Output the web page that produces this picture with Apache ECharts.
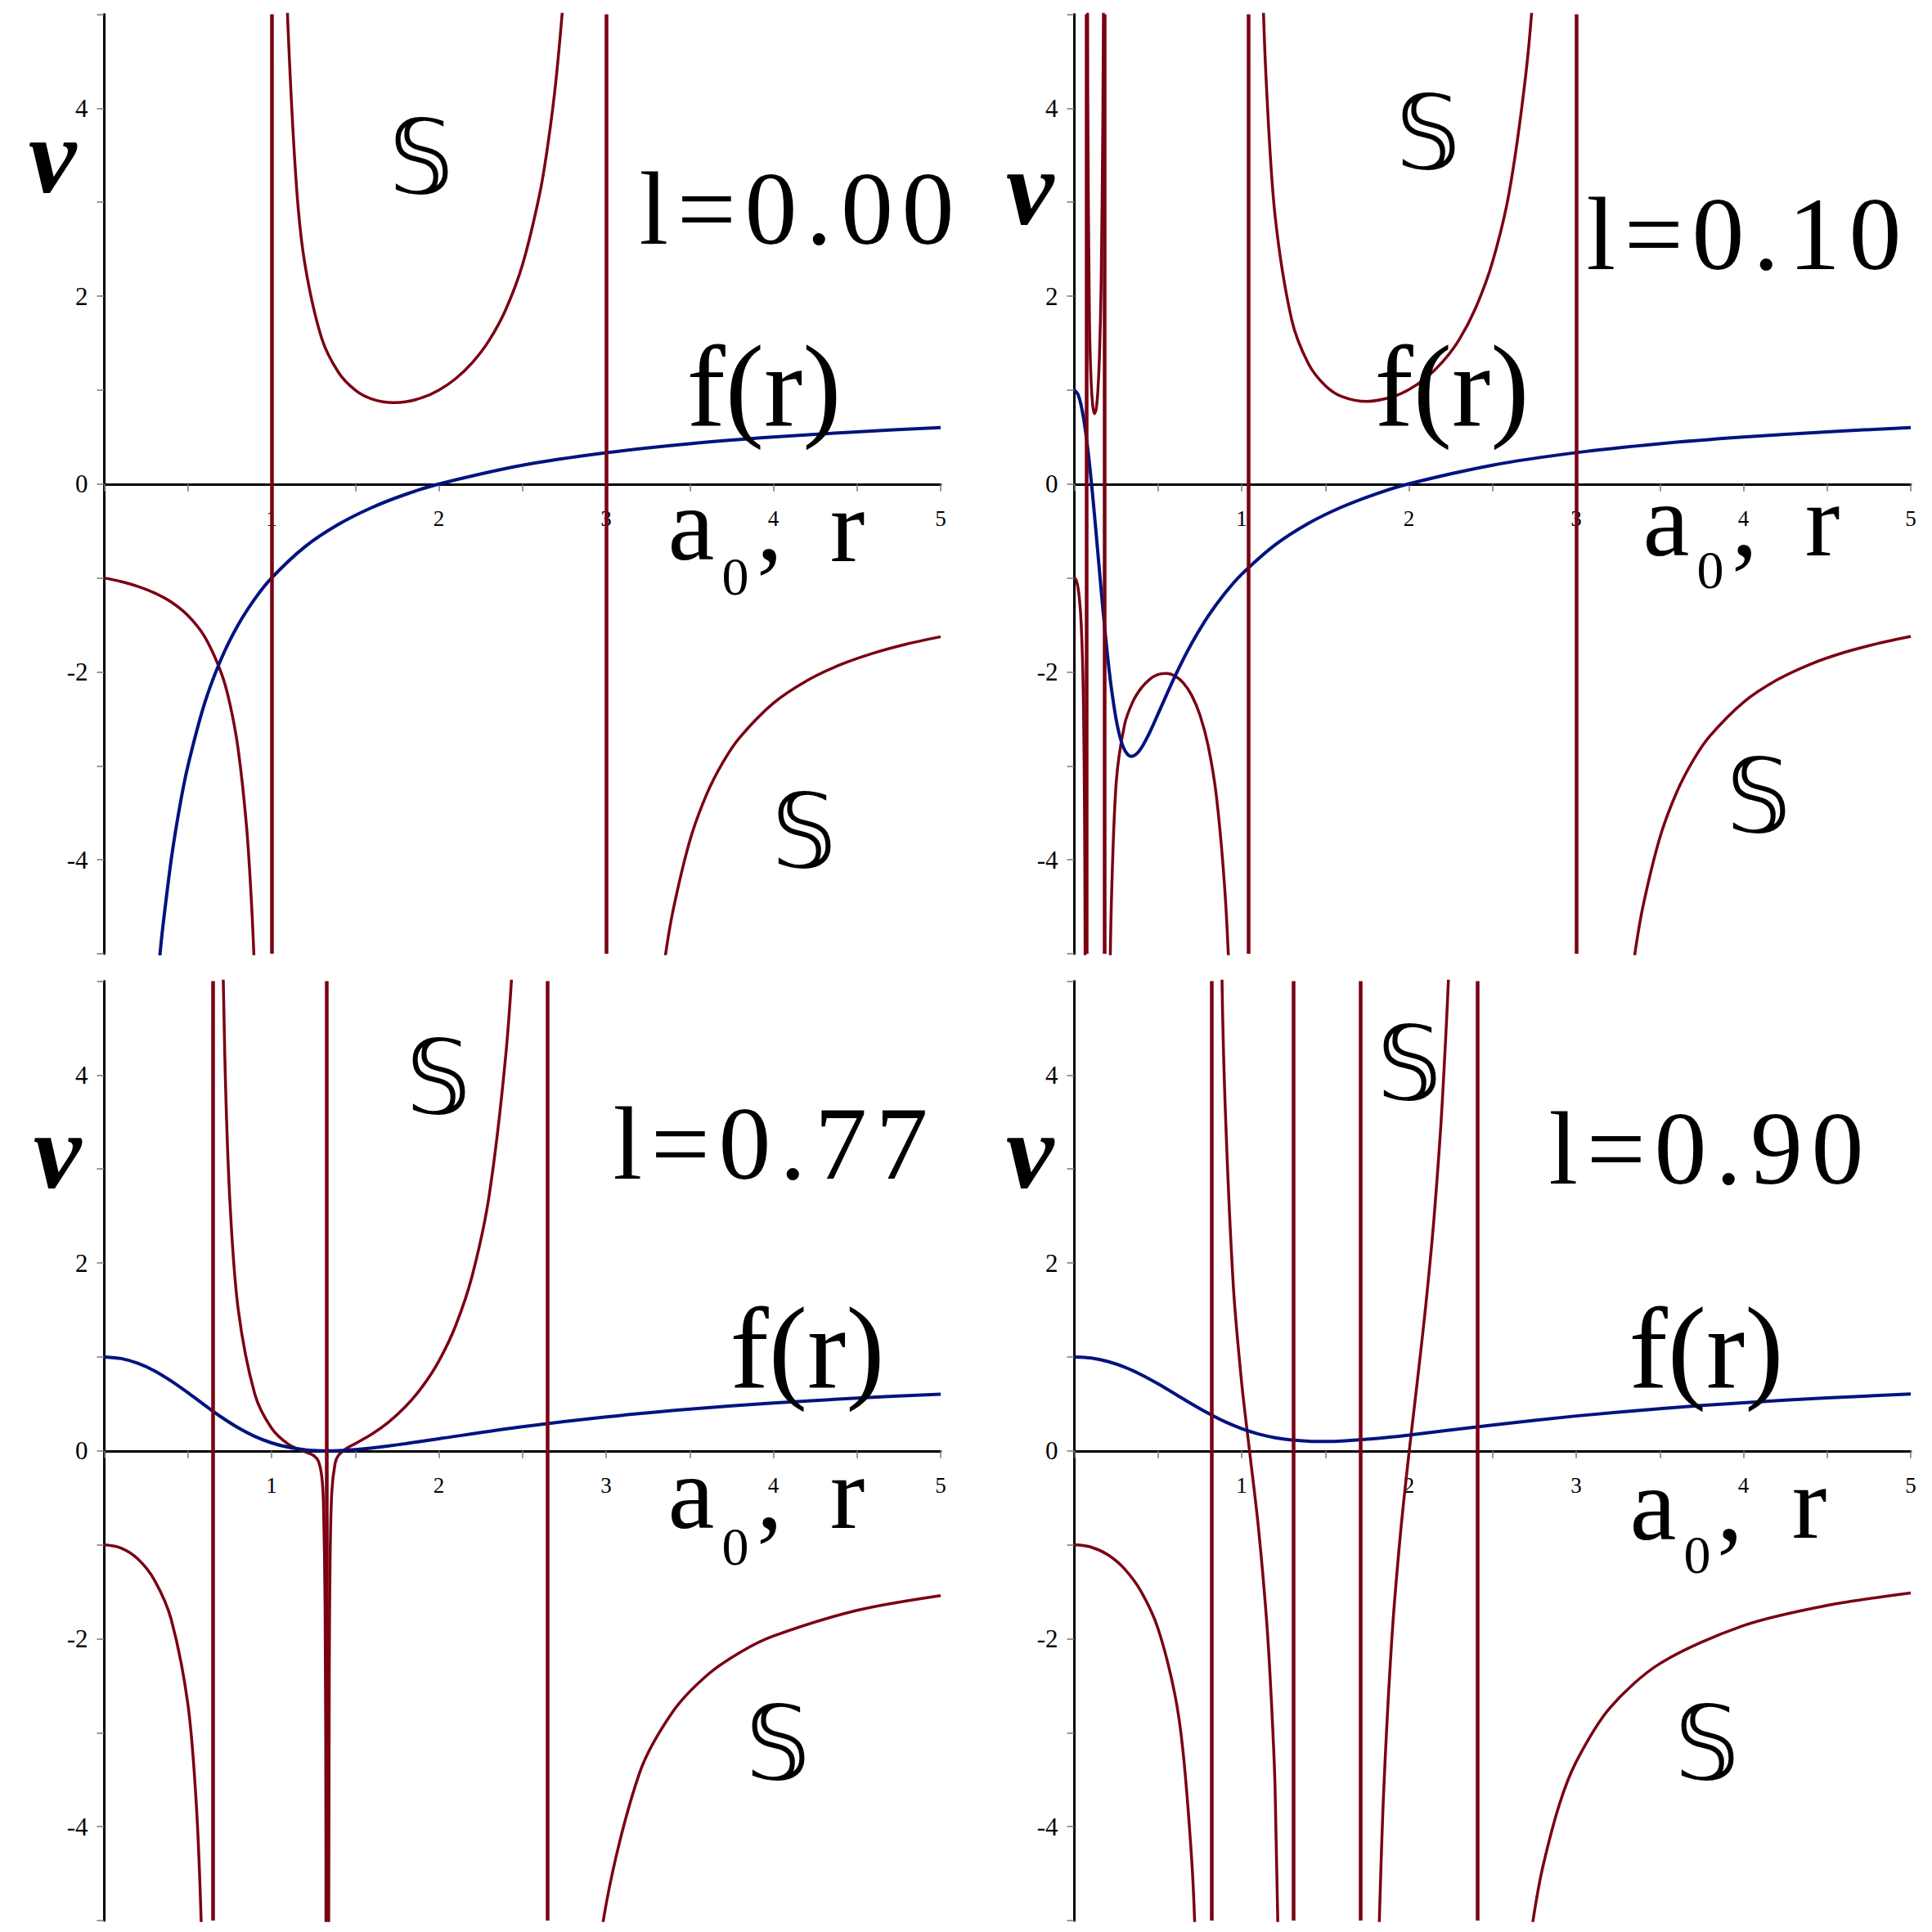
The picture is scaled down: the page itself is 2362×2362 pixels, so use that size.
<!DOCTYPE html>
<html><head><meta charset="utf-8">
<script src="https://cdn.jsdelivr.net/npm/echarts@6.0.0/dist/echarts.min.js"></script>
<style>html,body{margin:0;padding:0;background:#fff}#c{width:2362px;height:2362px}</style>
</head><body><div id="c"></div>
<script>
// ---------------- DATA ----------------
const panelLabels = ['l=0.00', 'l=0.10', 'l=0.77', 'l=0.90'];
const xTickValues = [1, 2, 3, 4, 5];
const yTickValues = [-4, -2, 0, 2, 4];

// Panel l=0.00
const f_l000 = [[0.3,-5.667],[0.333,-5.006],[0.35,-4.714],[0.4,-4],[0.45,-3.444],[0.5,-3],[0.6,-2.333],[0.7,-1.857],[0.8,-1.5],[0.9,-1.222],[1,-1],[1.2,-0.667],[1.4,-0.429],[1.6,-0.25],[1.8,-0.111],[2,0],[2.5,0.2],[3,0.333],[3.5,0.429],[4,0.5],[4.5,0.556],[5,0.6]];
const v_l000_a = [[0,-1],[0.1,-1.038],[0.2,-1.089],[0.3,-1.159],[0.4,-1.256],[0.5,-1.4],[0.6,-1.625],[0.7,-2.014],[0.75,-2.333],[0.8,-2.818],[0.85,-3.636],[0.88,-4.459],[0.9,-5.286],[0.92,-6.53]];
const v_l000_b = [[1.08,6.03],[1.1,4.789],[1.15,3.144],[1.2,2.333],[1.3,1.549],[1.4,1.188],[1.5,1.0],[1.6,0.905],[1.73,0.866],[1.8,0.875],[1.9,0.919],[2.0,1.0],[2.1,1.121],[2.2,1.292],[2.3,1.527],[2.4,1.857],[2.5,2.333],[2.6,3.063],[2.65,3.589],[2.7,4.294],[2.75,5.286],[2.78,6.099]];
const v_l000_c = [[3.3,-5.783],[3.35,-5.073],[3.4,-4.542],[3.5,-3.8],[3.6,-3.308],[3.7,-2.958],[3.8,-2.696],[4.0,-2.333],[4.2,-2.094],[4.4,-1.924],[4.6,-1.799],[4.8,-1.702],[5.0,-1.625]];
const asym_l000 = [1, 3];

// Panel l=0.10
const f_l010 = [[0,1],[0.02,0.96],[0.04,0.8405],[0.06,0.644],[0.08,0.376],[0.1,0.048],[0.12,-0.3255],[0.14,-0.7235],[0.16,-1.125],[0.18,-1.5085],[0.2,-1.857],[0.22,-2.158],[0.25,-2.509],[0.28,-2.738],[0.31,-2.86],[0.34,-2.899],[0.37,-2.875],[0.4,-2.81],[0.45,-2.645],[0.5,-2.448],[0.6,-2.051],[0.7,-1.7],[0.8,-1.406],[0.9,-1.163],[1,-0.961],[1.2,-0.648],[1.4,-0.418],[1.6,-0.244],[1.8,-0.107],[2,0.0025],[2.5,0.201],[3,0.334],[3.5,0.429],[4,0.5],[4.5,0.556],[5,0.6]];
const v_l010_a = [[0,-1],[0.01,-1.020],[0.02,-1.087],[0.03,-1.218],[0.04,-1.461],[0.05,-1.957],[0.055,-2.436],[0.06,-3.327],[0.0625,-4.133],[0.065,-5.529],[0.067,-7.69]];
const v_l010_b = [[0.075,11.16],[0.08,4.153],[0.09,1.751],[0.1,1.094],[0.11,0.832],[0.12,0.749],[0.13,0.795],[0.14,0.979],[0.15,1.363],[0.16,2.124],[0.17,3.838],[0.175,5.707],[0.18,9.848]];
const v_l010_c = [[0.2,-9.602],[0.21,-5.885],[0.22,-4.544],[0.25,-3.179],[0.3,-2.562],[0.35,-2.315],[0.4,-2.171],[0.45,-2.079],[0.5,-2.028],[0.55,-2.015],[0.6,-2.041],[0.65,-2.114],[0.7,-2.245],[0.75,-2.455],[0.8,-2.788],[0.85,-3.337],[0.9,-4.335],[0.93,-5.413],[0.95,-6.568]];
const v_l010_d = [[1.08,11.35],[1.1,7.562],[1.125,5.36],[1.15,4.174],[1.2,2.853],[1.3,1.742],[1.4,1.278],[1.5,1.048],[1.6,0.931],[1.75,0.879],[1.9,0.927],[2.0,1.005],[2.1,1.127],[2.2,1.298],[2.3,1.536],[2.4,1.879],[2.5,2.366],[2.6,3.11],[2.7,4.38],[2.75,5.41],[2.8,6.96]];
const v_l010_e = [[3.3,-5.70],[3.35,-5.01],[3.4,-4.49],[3.5,-3.766],[3.6,-3.285],[3.7,-2.94],[3.8,-2.681],[4.0,-2.323],[4.2,-2.086],[4.4,-1.918],[4.6,-1.794],[4.8,-1.699],[5.0,-1.622]];
const asym_l010 = [0.0707, 0.185, 1.041, 2.996];

// Panel l=0.77
const f_l077 = [[0,1],[0.1,0.983],[0.2,0.933],[0.3,0.852],[0.4,0.744],[0.5,0.619],[0.6,0.486],[0.7,0.359],[0.8,0.246],[0.9,0.154],[1.0,0.085],[1.1,0.0385],[1.2,0.0116],[1.25,0.0044],[1.3,0.0008],[1.333,0.0002],[1.4,0.0025],[1.45,0.007],[1.5,0.0133],[1.6,0.0306],[1.7,0.0523],[1.8,0.0766],[2.0,0.1291],[2.5,0.2564],[3.0,0.3614],[3.5,0.4439],[4.0,0.5091],[4.5,0.5613],[5.0,0.6038]];
const v_l077_a = [[0,-1],[0.1,-1.035],[0.2,-1.150],[0.3,-1.376],[0.4,-1.793],[0.5,-2.700],[0.55,-3.758],[0.58,-5.058],[0.6,-6.716],[0.62,-10.32]];
const v_l077_b = [[0.68,11.8],[0.7,6.385],[0.72,4.239],[0.75,2.688],[0.8,1.515],[0.9,0.603],[1.0,0.241],[1.1,0.071],[1.2,-0.010],[1.25,-0.048],[1.28,-0.110],[1.3,-0.272],[1.31,-0.548],[1.32,-1.658],[1.325,-4.171],[1.33,-24.25]];
const v_l077_c = [[1.337,-25.8],[1.34,-7.467],[1.345,-2.369],[1.35,-1.148],[1.36,-0.440],[1.38,-0.132],[1.4,-0.048],[1.45,0.028],[1.5,0.077],[1.6,0.178],[1.7,0.306],[1.8,0.470],[1.9,0.680],[2.0,0.955],[2.1,1.330],[2.2,1.868],[2.3,2.708],[2.4,4.209],[2.45,5.513],[2.5,7.673],[2.55,11.95]];
const v_l077_d = [[2.7,-28.7],[2.8,-9.993],[2.9,-6.371],[3.0,-4.828],[3.2,-3.429],[3.4,-2.774],[3.6,-2.394],[3.8,-2.146],[4.0,-1.971],[4.5,-1.698],[5.0,-1.541]];
const asym_l077 = [0.654, 1.3336, 2.652];

// Panel l=0.90
const f_l090 = [[0,1],[0.1,0.988],[0.2,0.951],[0.3,0.891],[0.4,0.81],[0.5,0.7135],[0.6,0.608],[0.7,0.501],[0.8,0.4],[0.9,0.31],[1.0,0.237],[1.1,0.18],[1.2,0.14],[1.3,0.1145],[1.4,0.1017],[1.5,0.0991],[1.6,0.1043],[1.8,0.1304],[2.0,0.1684],[2.5,0.2751],[3.0,0.3711],[3.5,0.4494],[4.0,0.5123],[4.5,0.5633],[5.0,0.6051]];
const v_l090_a = [[0,-1],[0.1,-1.025],[0.2,-1.106],[0.3,-1.257],[0.4,-1.501],[0.5,-1.891],[0.6,-2.586],[0.65,-3.207],[0.7,-4.315],[0.72,-5.063],[0.75,-6.997],[0.78,-12.02]];
const v_l090_b = [[0.83,30.03],[0.85,11.27],[0.88,5.352],[0.9,3.750],[0.95,1.762],[1.0,0.726],[1.05,-0.043],[1.1,-0.811],[1.15,-1.826],[1.18,-2.739],[1.2,-3.606],[1.25,-8.229]];
const v_l090_c = [[1.75,-17.51],[1.8,-6.845],[1.82,-5.210],[1.85,-3.593],[1.9,-1.945],[1.95,-0.871],[2.0,-0.030],[2.05,0.736],[2.1,1.535],[2.15,2.478],[2.2,3.734],[2.25,5.652],[2.3,9.187]];
const v_l090_d = [[2.45,-31.5],[2.5,-14.89],[2.6,-7.790],[2.7,-5.545],[2.75,-4.909],[2.8,-4.432],[2.9,-3.761],[3.0,-3.310],[3.2,-2.740],[3.5,-2.265],[4.0,-1.860],[4.5,-1.645],[5.0,-1.512]];
const asym_l090 = [0.817, 1.3116, 1.707, 2.4102];

// ---------------- LAYOUT / STYLE ----------------
const RED = '#7a0012', BLUE = '#00137f';
const GW = 1022.5, GH = 1148.5;
const gridPos = [[127.5,17.5],[1313.5,17.5],[127.5,1199.5],[1313.5,1199.5]];
const panels = [
  {f:f_l000, v:[v_l000_a,v_l000_b,v_l000_c], asym:asym_l000},
  {f:f_l010, v:[v_l010_a,v_l010_b,v_l010_c,v_l010_d,v_l010_e], asym:asym_l010},
  {f:f_l077, v:[v_l077_a,v_l077_b,v_l077_c,v_l077_d], asym:asym_l077},
  {f:f_l090, v:[v_l090_a,v_l090_b,v_l090_c,v_l090_d], asym:asym_l090}
];
const SERIF = '"Liberation Serif","Times New Roman",serif';

const grid = gridPos.map(p => ({left:p[0], top:p[1], width:GW, height:GH, containLabel:false}));
// x axis drawn through v = 0 (middle of the -5..5 range)
const xAxis = gridPos.map((p,i) => ({
  type:'value', gridIndex:i, min:0, max:5, interval:0.5, position:'bottom', offset:-GH/2,
  axisLine:{show:true, onZero:false, lineStyle:{color:'#000', width:3}},
  axisTick:{show:true, length:9, lineStyle:{color:'#777', width:1.5}},
  axisLabel:{margin:29, fontFamily:SERIF, fontSize:27, color:'#000',
    formatter:v => xTickValues.includes(v) ? String(v) : ''},
  splitLine:{show:false}
}));
const yAxis = gridPos.map((p,i) => ({
  type:'value', gridIndex:i, min:-5, max:5, interval:1, position:'left',
  axisLine:{show:true, onZero:false, lineStyle:{color:'#000', width:3}},
  axisTick:{show:true, length:9, lineStyle:{color:'#777', width:1.5}},
  axisLabel:{margin:20, fontFamily:SERIF, fontSize:31, color:'#000',
    formatter:v => yTickValues.includes(v) ? String(v) : ''},
  splitLine:{show:false}
}));

const series = [];
panels.forEach((P,i) => {
  P.v.forEach((seg,k) => {
    const s = {type:'line', xAxisIndex:i, yAxisIndex:i, data:seg, symbol:'none', showSymbol:false,
      smooth:0.3, clip:true, silent:true, z:3,
      lineStyle:{color:RED, width:3.5}};
    if (k === 0) {
      s.markLine = {symbol:['none','none'], silent:true, animation:false, label:{show:false},
        lineStyle:{color:RED, width:4.5, type:'solid'},
        data:P.asym.map(a => ({xAxis:a}))};
    }
    series.push(s);
  });
  series.push({type:'line', xAxisIndex:i, yAxisIndex:i, data:P.f, symbol:'none', showSymbol:false,
    smooth:0.3, clip:true, silent:true, z:4,
    lineStyle:{color:BLUE, width:4}});
});

// ---------------- TEXT ----------------
const DS = '\u{1D54A}';
const HS = '\u200A';
function txt(s, x, y, font, lh) {
  const st = {text:s, font:font, fill:'#000', textAlign:'center', textVerticalAlign:'middle', align:'center', verticalAlign:'middle'};
  if (lh) st.lineHeight = lh;
  return {type:'text', x:x, y:y, z:10, silent:true, style:st};
}
const F_L = '128px ' + SERIF, F_F = '142px ' + SERIF, F_A = '128px ' + SERIF, F_SUB = '66px ' + SERIF;
const F_V = 'italic bold 132px ' + SERIF, F_S = '125px "DejaVu Sans","DejaVu Serif",sans-serif';
const labelPos = [
  {v:[64,190], S1:[515,192], l:[974,255], f:[934,472], a:[845,641], s0:[899,704], c:[941,641], r:[1036,643], S2:[983,1016]},
  {v:[1259,229], S1:[1746,162], l:[2132,286], f:[1775,472], a:[2037,636], s0:[2091,696], c:[2133,636], r:[2228,636], S2:[2150,973]},
  {v:[70,1407], S1:[536,1317], l:[942,1398], f:[987,1648], a:[845,1825], s0:[899,1890], c:[941,1825], r:[1036,1825], S2:[951,2131]},
  {v:[1259,1407], S1:[1723,1300], l:[2086,1404], f:[2086,1648], a:[2021,1839], s0:[2075,1900], c:[2115,1839], r:[2212,1837], S2:[2087,2131]}
];
const graphic = [];
labelPos.forEach((L,i) => {
  graphic.push(txt('v', L.v[0], L.v[1], F_V, 70));
  graphic.push(txt(DS, L.S1[0], L.S1[1], F_S));
  graphic.push(txt(DS, L.S2[0], L.S2[1], F_S));
  graphic.push(txt(panelLabels[i].split('').join(HS), L.l[0], L.l[1], F_L));
  graphic.push(txt('f(r)', L.f[0], L.f[1], F_F));
  graphic.push(txt('a', L.a[0], L.a[1], F_A));
  graphic.push(txt('0', L.s0[0], L.s0[1], F_SUB));
  graphic.push(txt(',', L.c[0], L.c[1], F_A, 60));
  graphic.push(txt('r', L.r[0], L.r[1], F_A));
});

const chart = echarts.init(document.getElementById('c'), null, {renderer:'svg', width:2362, height:2362});
chart.setOption({
  animation:false, backgroundColor:'#fff',
  grid, xAxis, yAxis, series, graphic
});
</script>
</body></html>
